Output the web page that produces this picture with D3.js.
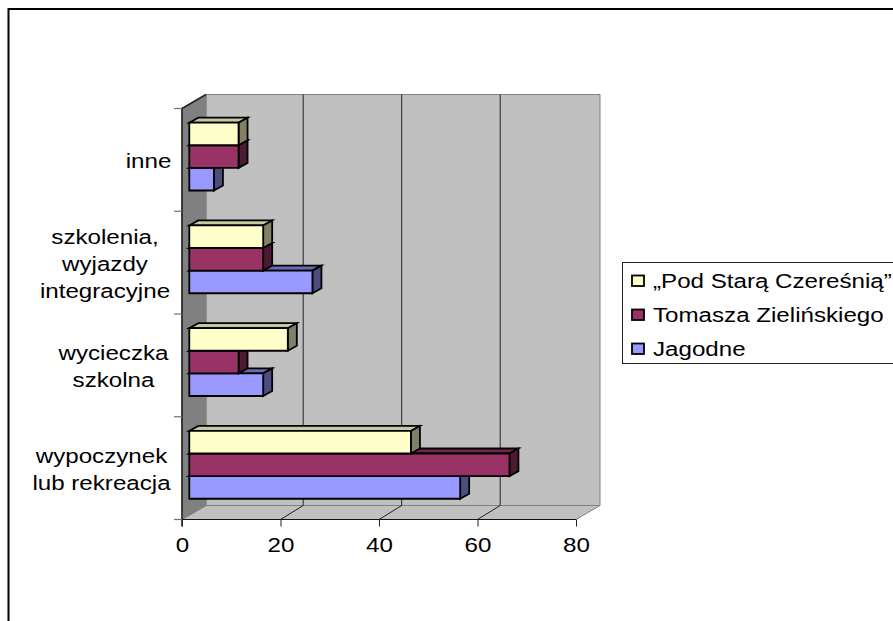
<!DOCTYPE html>
<html>
<head>
<meta charset="utf-8">
<script src="https://cdn.jsdelivr.net/npm/d3@7"></script>
<style>
  html, body { margin: 0; padding: 0; background: #fff; overflow: hidden; }
  text { font-family: "Liberation Sans", Arial, sans-serif; fill: #000; }
</style>
</head>
<body>
<svg id="chart" width="893" height="621"></svg>
<script>
// categories run bottom to top, same as the reference
const categories = ["wypoczynek lub rekreacja", "wycieczka szkolna", "szkolenia, wyjazdy integracyjne", "inne"];
const categoryLines = [["wypoczynek", "lub rekreacja"], ["wycieczka", "szkolna"], ["szkolenia,", "wyjazdy", "integracyjne"], ["inne"]];
const labelCentres = [101.5, 113.5, 105, 148.5];
const jagodne = [55, 15, 25, 5];
const zielinskiego = [65, 10, 15, 10];
const czeresnia = [45, 20, 15, 10];
const xTicks = [0, 20, 40, 60, 80];

const seriesNames = ["Jagodne", "Tomasza Zielińskiego", "„Pod Starą Czereśnią”"];
const seriesValues = [jagodne, zielinskiego, czeresnia];
const seriesColors = [
  { front: "#9999ff", top: "#6b6bb3", side: "#4d4d80" },
  { front: "#993366", top: "#73264d", side: "#4d1a33" },
  { front: "#ffffcc", top: "#c8c8a0", side: "#808066" },
];

const svg = d3.select("#chart");

// front plane of the 3d box
const x = d3.scaleLinear().domain([0, 80]).range([182, 576]);
const y = d3.scaleBand().domain(categories).range([519.5, 108.5]);
const depthX = 24, depthY = -14, gridDepthX = 22.7;

// bars are inset a bit into the depth of the box
const barDX = 7.3, barDY = -3.3, barDepthX = 9, barDepthY = -5;

// the picture's type is wider than the font, stretch it sideways
const fontSize = 21, stretch = 1.15;
const label = (px, py, str, anchor) => svg.append("text")
  .attr("transform", `translate(${px},${py}) scale(${stretch},1)`)
  .attr("text-anchor", anchor)
  .attr("font-size", fontSize)
  .text(str);

const poly = (pts, fill, stroke, sw) => svg.append("polygon")
  .attr("points", pts.map((p) => p.join(",")).join(" "))
  .attr("fill", fill)
  .attr("stroke", stroke || "none")
  .attr("stroke-width", sw || 0);

// outer frame, runs off the right and the bottom of the picture
svg.append("path")
  .attr("d", "M8.5,621V9H893")
  .attr("fill", "none")
  .attr("stroke", "#000")
  .attr("stroke-width", 2);

// walls
const x0 = x(0), x1 = x(80), yB = y.range()[0], yT = y.range()[1];
poly([[x0 + depthX, yT + depthY], [x1 + depthX, yT + depthY], [x1 + depthX, yB + depthY], [x0 + depthX, yB + depthY]], "#c0c0c0", "#808080", 1);
poly([[x0, yB], [x1, yB], [x1 + depthX, yB + depthY], [x0 + depthX, yB + depthY]], "#c0c0c0", "#808080", 1);
poly([[x0, yT], [x0 + depthX, yT + depthY], [x0 + depthX, yB + depthY], [x0, yB]], "#808080", "#808080", 1);

// gridlines on back wall and floor
xTicks.slice(1, -1).forEach((t) => {
  svg.append("path")
    .attr("d", `M${x(t)},${yB}L${x(t) + gridDepthX},${yB + depthY}V${yT + depthY}`)
    .attr("fill", "none")
    .attr("stroke", "#222")
    .attr("stroke-width", 1);
});
svg.append("path")
  .attr("d", `M${x0},${yB + 7}V${yT}L${x0 + depthX},${yT + depthY}`)
  .attr("fill", "none")
  .attr("stroke", "#222")
  .attr("stroke-width", 1.6);

// axes
const xAxis = d3.axisBottom(x).tickValues(xTicks).tickSize(7).tickFormat("");
const gx = svg.append("g").attr("transform", `translate(0,${yB})`).call(xAxis);
gx.select(".domain").attr("stroke", "#111").attr("d", `M${x0},0H${x1}`);
gx.selectAll("line").attr("stroke", "#222");
xTicks.forEach((t) => label(x(t) + 0.5, 552, t, "middle"));

const bandTicks = categories.map((c) => y(c) + y.bandwidth()).concat([yT]);
svg.selectAll(".ytick").data(bandTicks).enter().append("line")
  .attr("class", "ytick")
  .attr("x1", x0 - 8).attr("x2", x0)
  .attr("y1", (d) => d).attr("y2", (d) => d)
  .attr("stroke", "#707070")
  .attr("stroke-width", 1.2);

// category labels
const lineHeight = 27;
categories.forEach((c, i) => {
  const lines = categoryLines[i];
  const cy = y(c) + y.bandwidth() / 2;
  lines.forEach((ln, j) => {
    label(labelCentres[i], cy + (j - (lines.length - 1) / 2) * lineHeight + 8, ln, "middle");
  });
});

// bars, lowest series first so the one above can overlap it
const barH = y.bandwidth() * 0.22;
const groupH = barH * 3;
categories.forEach((c, ci) => {
  const mid = y(c) + y.bandwidth() / 2 + barDY;
  seriesValues.forEach((vals, si) => {
    const left = x(0) + barDX;
    const right = x(vals[ci]) + barDX;
    const bottom = mid + groupH / 2 - si * barH;
    const top = bottom - barH;
    const col = seriesColors[si];
    poly([[left, top], [left + barDepthX, top + barDepthY], [right + barDepthX, top + barDepthY], [right, top]], col.top, "#000", 1.8);
    poly([[right, top], [right + barDepthX, top + barDepthY], [right + barDepthX, bottom + barDepthY], [right, bottom]], col.side, "#000", 1.8);
    poly([[left, top], [right, top], [right, bottom], [left, bottom]], col.front, "#000", 1.8);
  });
});

// legend
svg.append("rect")
  .attr("x", 622.5).attr("y", 262.5)
  .attr("width", 272).attr("height", 101)
  .attr("fill", "#fff").attr("stroke", "#222");
[2, 1, 0].forEach((si, row) => {
  const ly = 288 + row * 34;
  svg.append("rect")
    .attr("x", 632).attr("y", ly - 12.5)
    .attr("width", 12).attr("height", 10.5)
    .attr("fill", seriesColors[si].front)
    .attr("stroke", "#000").attr("stroke-width", 1.8);
  label(653, ly, seriesNames[si], "start");
});
</script>
</body>
</html>
